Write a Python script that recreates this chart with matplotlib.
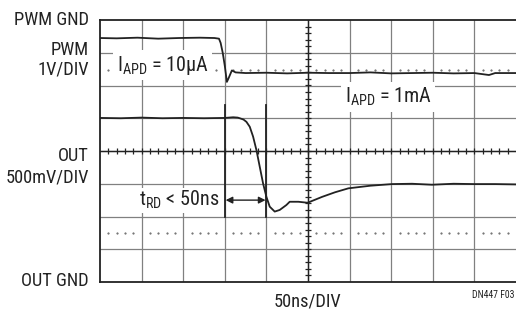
import numpy as np
import matplotlib
matplotlib.use("Agg")
import matplotlib.pyplot as plt
from matplotlib import font_manager


def pick_font(names):
    for n in names:
        try:
            font_manager.findfont(n, fallback_to_default=False)
            return n
        except ValueError:
            pass
    return "DejaVu Sans"


MAIN = pick_font(["Liberation Sans Narrow", "Roboto Condensed", "Roboto", "Liberation Sans"])
plt.rcParams["font.family"] = [MAIN, "DejaVu Sans"]
plt.rcParams["mathtext.fontset"] = "custom"
plt.rcParams["mathtext.rm"] = MAIN
plt.rcParams["mathtext.it"] = MAIN

INK = "#222222"
GRID = "#808080"

# scope traces, x in ns/div divisions, y in vertical divisions (0 = bottom)
pwm_x = [0.0, 0.4, 0.9, 1.4, 1.9, 2.4, 2.75, 2.86, 2.90, 2.95, 3.00, 3.05, 3.09,
         3.17, 3.26, 3.5, 4.0, 4.5, 5.0, 5.5, 6.0, 6.5, 7.0, 7.5, 8.0, 8.5, 9.0,
         9.35, 9.5, 10.0]
pwm_y = [7.45, 7.44, 7.46, 7.43, 7.45, 7.46, 7.45, 7.43, 7.30, 7.00, 6.60, 6.11,
         6.22, 6.46, 6.40, 6.38, 6.39, 6.37, 6.39, 6.38, 6.38, 6.40, 6.37, 6.38,
         6.39, 6.37, 6.38, 6.32, 6.38, 6.38]

out_x = [0.0, 0.5, 1.0, 1.5, 2.0, 2.5, 3.0, 3.2, 3.31, 3.36, 3.45, 3.52, 3.60,
         3.68, 3.76, 3.84, 3.92, 4.00, 4.08, 4.20, 4.32, 4.48, 4.56, 4.77, 4.99,
         5.34, 5.65, 5.97, 6.5, 7.02, 7.5, 7.98, 8.5, 9.0, 9.5, 10.0]
out_y = [5.01, 5.00, 5.02, 5.00, 5.01, 5.00, 5.01, 5.03, 5.02, 5.00, 4.96, 4.89,
         4.74, 4.44, 4.03, 3.52, 3.01, 2.60, 2.30, 2.15, 2.20, 2.35, 2.45, 2.45,
         2.42, 2.60, 2.74, 2.86, 2.94, 2.99, 3.00, 2.97, 3.00, 2.99, 2.99, 2.98]

cursor_x = [3.0, 4.0]
dotted_y = [6.47, 1.5]

fig = plt.figure(figsize=(5.16, 3.10), dpi=100)
ax = fig.add_axes([100 / 516, 28 / 310, 416 / 516, 262 / 310])
ax.set_xlim(0, 10)
ax.set_ylim(0, 8)

# graticule
for gx in range(1, 10):
    ax.axvline(gx, color=GRID, lw=0.9, zorder=1)
for gy in range(1, 8):
    ax.axhline(gy, color=GRID, lw=0.9, zorder=1)
ax.axhline(4, color=INK, lw=1.0, zorder=2)
ax.axvline(5, color=INK, lw=1.0, zorder=2)
minor = np.arange(0.2, 10, 0.2)
ax.plot(minor, np.full_like(minor, 4.0), "|", color=INK, ms=4.5, mew=0.9, zorder=2)
vminor = np.arange(0.2, 8, 0.2)
ax.plot(np.full_like(vminor, 5.0), vminor, "_", color=INK, ms=4.5, mew=0.9, zorder=2)

# dotted cursor rows
dots = np.array([v for v in np.arange(0.2, 10, 0.2) if abs(v - round(v)) > 0.05])
for dy in dotted_y:
    ax.plot(dots, np.full_like(dots, dy), ".", color="#555555", ms=1.0, zorder=1)

# cursor lines
for cx in cursor_x:
    ax.plot([cx, cx], [2.0, 5.4], color=INK, lw=1.3, zorder=3)

ax.plot(pwm_x, pwm_y, color=INK, lw=1.3, zorder=4)
ax.plot(out_x, out_y, color=INK, lw=1.3, zorder=4)

for s in ["left", "top", "bottom"]:
    ax.spines[s].set_color(INK)
    ax.spines[s].set_linewidth(1.3)
ax.spines["right"].set_visible(False)
ax.set_xticks([])
ax.set_yticks([])

FS = 13.2
AFS = 14.5
box = dict(facecolor="white", edgecolor="none", pad=2.5)
ax.text(0.40, 6.62, r"I$_\mathrm{APD}$ = 10µA", fontsize=AFS, color=INK,
        ha="left", va="center", bbox=box, zorder=5)
ax.text(5.88, 5.65, r"I$_\mathrm{APD}$ = 1mA", fontsize=AFS, color=INK,
        ha="left", va="center", bbox=box, zorder=5)
ax.text(0.93, 2.5, r"t$_\mathrm{RD}$ < 50ns", fontsize=AFS, color=INK,
        ha="left", va="center", bbox=dict(facecolor="white", edgecolor="none", pad=1),
        zorder=5)
ax.annotate("", xy=(3.02, 2.5), xytext=(3.98, 2.5),
            arrowprops=dict(arrowstyle="<|-|>", color=INK, lw=1.0,
                            mutation_scale=10, shrinkA=0, shrinkB=0), zorder=5)


# side labels (figure pixel coords)
def flabel(x, y, s, size=FS, ha="right"):
    fig.text(x / 516, 1 - y / 310, s, fontsize=size, color=INK, ha=ha, va="center")


flabel(89, 20, "PWM GND")
flabel(89, 50, "PWM")
flabel(89, 70, "1V/DIV")
flabel(89, 156, "OUT")
flabel(89, 177, "500mV/DIV")
flabel(89, 281, "OUT GND")
flabel(307, 301, "50ns/DIV", ha="center")
flabel(515, 295, "DN447 F03", size=7)

fig.savefig("out.png", dpi=100)
